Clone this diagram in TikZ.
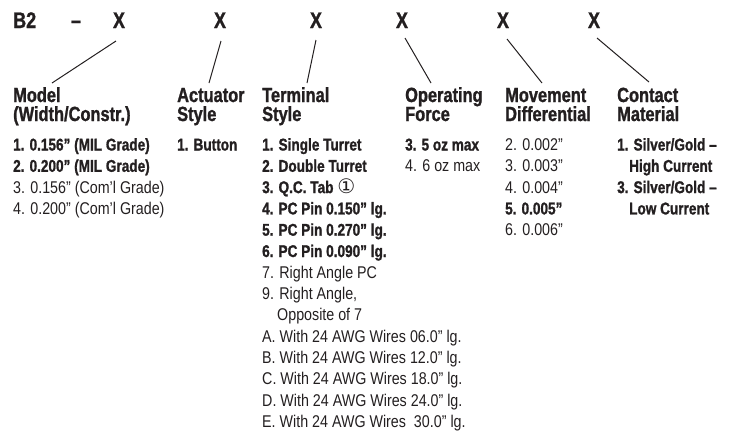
\documentclass[tikz,border=0pt]{standalone}
\usepackage{fontspec}
\setmainfont{Liberation Sans}[FakeStretch=0.84, BoldFeatures={FakeStretch=0.80, FakeBold=1.2}]
\newfontfamily\dejavu{DejaVu Sans}
\definecolor{ink}{HTML}{231F20}
\begin{document}
\begin{tikzpicture}[x=1pt,y=-1pt,
  every node/.style={inner sep=0pt, text=ink},
  code/.style={anchor=base, font=\fontsize{22.5}{22.5}\selectfont\bfseries},
  head/.style={anchor=base west, font=\fontsize{20.5}{20.5}\selectfont\bfseries},
  item/.style={anchor=base west, font=\fontsize{17}{17}\selectfont},
  lead/.style={draw=ink, line width=1}]
\useasboundingbox (0,0) rectangle (732,432);
% top code row
\node[code, anchor=base west] (b2) at (13,28) {B2};
\node[code] (dash) at (76,28) {–};
\node[code] (x1) at (119,28) {X};
\node[code] (x2) at (220,28) {X};
\node[code] (x3) at (316,28) {X};
\node[code] (x4) at (402,28) {X};
\node[code] (x5) at (503,28) {X};
\node[code] (x6) at (594,28) {X};
% headings
\node[head] (h1a) at (13,102) {Model};
\node[head] (h1b) at (13,121) {(Width/Constr.)};
\node[head] (h2a) at (177,102) {Actuator};
\node[head] (h2b) at (177,121) {Style};
\node[head] (h3a) at (262,102) {Terminal};
\node[head] (h3b) at (262,121) {Style};
\node[head] (h4a) at (405,102) {Operating};
\node[head] (h4b) at (405,121) {Force};
\node[head] (h5a) at (505,102) {Movement};
\node[head] (h5b) at (505,121) {Differential};
\node[head] (h6a) at (617,102) {Contact};
\node[head] (h6b) at (617,121) {Material};
% leader lines
\coordinate (t1) at (116,41); \coordinate (e1) at (52,83);
\coordinate (t2) at (221,41); \coordinate (e2) at (209,83);
\coordinate (t3) at (316,40); \coordinate (e3) at (307,83);
\coordinate (t4) at (405,38); \coordinate (e4) at (431,83);
\coordinate (t5) at (507,39); \coordinate (e5) at (542,83);
\coordinate (t6) at (597,38); \coordinate (e6) at (649,82);
\foreach \k in {1,...,6} \draw[lead] (t\k) -- (e\k);
% model items
\foreach [count=\i] \t in {{\bfseries 1. 0.156” (MIL Grade)},
  {\bfseries 2. 0.200” (MIL Grade)},
  {3. 0.156” (Com’l Grade)},
  {4. 0.200” (Com’l Grade)}}
  \node[item] (m\i) at (13,{150.5+(\i-1)*21.3}) {\t};
% actuator
\node[item] (a1) at (177,150.5) {\bfseries 1. Button};
% terminal items
\foreach [count=\i] \t in {{\bfseries 1. Single Turret},
  {\bfseries 2. Double Turret},
  {\bfseries 3. Q.C. Tab {\mdseries\dejavu\fontsize{20}{20}\selectfont ①}},
  {\bfseries 4. PC Pin 0.150” lg.},
  {\bfseries 5. PC Pin 0.270” lg.},
  {\bfseries 6. PC Pin 0.090” lg.},
  {7. Right Angle PC},
  {9. Right Angle,},
  {\hspace{15pt}Opposite of 7},
  {A. With 24 AWG Wires 06.0” lg.},
  {B. With 24 AWG Wires 12.0” lg.},
  {C. With 24 AWG Wires 18.0” lg.},
  {D. With 24 AWG Wires 24.0” lg.},
  {E. With 24 AWG Wires \ 30.0” lg.}}
  \node[item] (t\i) at (262,{150.5+(\i-1)*21.3}) {\t};
% operating force
\node[item] (f1) at (405,150.5) {\bfseries 3. 5 oz max};
\node[item] (f2) at (405,171.8) {4. 6 oz max};
% movement differential
\foreach [count=\i] \t in {{2. 0.002”},{3. 0.003”},{4. 0.004”},{\bfseries 5. 0.005”},{6. 0.006”}}
  \node[item] (d\i) at (505,{150.5+(\i-1)*21.3}) {\t};
% contact material
\foreach [count=\i] \t in {{1. Silver/Gold –},{\hspace{12pt}High Current},{3. Silver/Gold –},{\hspace{12pt}Low Current}}
  \node[item, font=\fontsize{17}{17}\selectfont\bfseries] (c\i) at (617,{150.5+(\i-1)*21.3}) {\t};
\end{tikzpicture}
\end{document}
